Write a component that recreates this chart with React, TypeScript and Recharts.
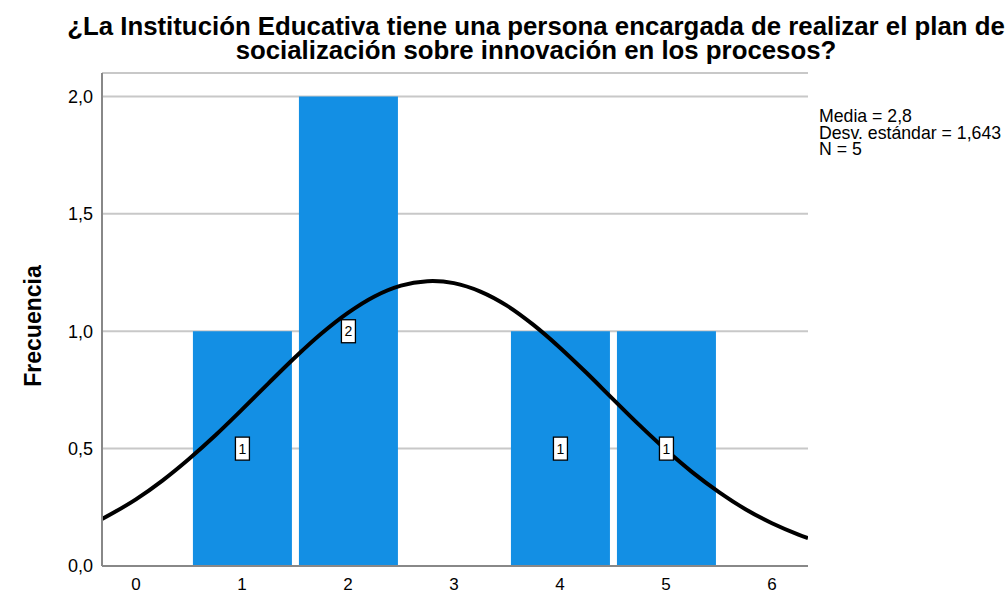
import { ComposedChart, Bar, Line, XAxis, YAxis, CartesianGrid, LabelList } from 'recharts';

const values = [1, 2, 3, 4, 5];
const frequencies = [1, 2, 0, 1, 1];

// normal curve (x value, height)
const curveX = [-0.32, 0, 0.25, 0.5, 0.75, 1, 1.25, 1.5, 1.75, 2, 2.25, 2.5, 2.75, 2.8, 3, 3.25, 3.5, 3.75, 4, 4.25, 4.5, 4.75, 5, 5.25, 5.5, 5.75, 6, 6.25, 6.34];
const curveY = [0.2, 0.284, 0.364, 0.456, 0.557, 0.666, 0.778, 0.888, 0.99, 1.078, 1.148, 1.194, 1.213, 1.214, 1.205, 1.169, 1.109, 1.027, 0.93, 0.823, 0.711, 0.6, 0.495, 0.399, 0.315, 0.242, 0.182, 0.134, 0.119];

const xTicks = [0, 1, 2, 3, 4, 5, 6];
const yTicks = [0, 0.5, 1, 1.5, 2];

const stats = ['Media = 2,8', 'Desv. estándar = 1,643', 'N = 5'];
const title = [
  '¿La Institución Educativa tiene una persona encargada de realizar el plan de',
  'socialización sobre innovación en los procesos?',
];

const barData = values.map((x, i) => ({ x, freq: frequencies[i] }));
const curveData = curveX.map((x, i) => ({ x, y: curveY[i] }));

const FONT = '"Liberation Sans", Arial, sans-serif';
const X_DOMAIN: [number, number] = [-0.32, 6.34];

const CountLabel = (props: any) => {
  const { x, y, width, height, value } = props;
  if (!value) return null;
  const cx = x + width / 2;
  const cy = y + height / 2;
  return (
    <g>
      <rect x={cx - 7} y={cy - 11.5} width={14} height={23} fill="#fff" stroke="#000" strokeWidth={1.3} />
      <text x={cx} y={cy + 5} textAnchor="middle" fontSize={14} fontFamily={FONT} fill="#000">
        {value}
      </text>
    </g>
  );
};

export default function App() {
  return (
    <div style={{ position: 'absolute', left: 0, top: 0, width: 1007, height: 594, background: '#fff', fontFamily: FONT }}>
      <ComposedChart width={1007} height={594} data={barData} margin={{ top: 73, right: 199, bottom: 0, left: 0 }}>
        <CartesianGrid vertical={false} xAxisId="bars" stroke="#c8c8c8" strokeWidth={2} />
        <XAxis
          xAxisId="bars"
          dataKey="x"
          type="number"
          domain={X_DOMAIN}
          allowDataOverflow
          ticks={xTicks}
          tickLine={false}
          axisLine={{ stroke: '#888', strokeWidth: 2 }}
          height={28}
          tick={{ fill: '#000', fontSize: 17, fontFamily: FONT }}
          tickMargin={6}
        />
        <XAxis xAxisId="curve" dataKey="x" type="number" domain={X_DOMAIN} allowDataOverflow hide />
        <YAxis
          domain={[0, 2.1]}
          ticks={yTicks}
          width={102}
          tickLine={false}
          axisLine={{ stroke: '#888', strokeWidth: 2 }}
          tick={{ fill: '#000', fontSize: 18, fontFamily: FONT }}
          tickFormatter={(v: number) => v.toFixed(1).replace('.', ',')}
          tickMargin={3}
        />
        <Bar xAxisId="bars" dataKey="freq" fill="#138fe4" barSize={99} isAnimationActive={false}>
          <LabelList dataKey="freq" content={CountLabel} />
        </Bar>
        <Line
          xAxisId="curve"
          data={curveData}
          dataKey="y"
          type="monotone"
          stroke="#000"
          strokeWidth={4}
          dot={false}
          isAnimationActive={false}
        />
      </ComposedChart>
      <div style={{ position: 'absolute', left: 0, top: 14, width: 1072, textAlign: 'center', fontWeight: 'bold', fontSize: 25.8, lineHeight: '24px', color: '#000' }}>
        {title.map((t) => (
          <div key={t}>{t}</div>
        ))}
      </div>
      <div style={{ position: 'absolute', left: 819, top: 108, fontSize: 17.7, lineHeight: '16.5px', color: '#000', whiteSpace: 'nowrap' }}>
        {stats.map((s) => (
          <div key={s}>{s}</div>
        ))}
      </div>
      <div style={{ position: 'absolute', left: 33, top: 326, transform: 'translate(-50%, -50%) rotate(-90deg)', fontSize: 23, fontWeight: 'bold', whiteSpace: 'nowrap', color: '#000' }}>
        Frecuencia
      </div>
    </div>
  );
}
